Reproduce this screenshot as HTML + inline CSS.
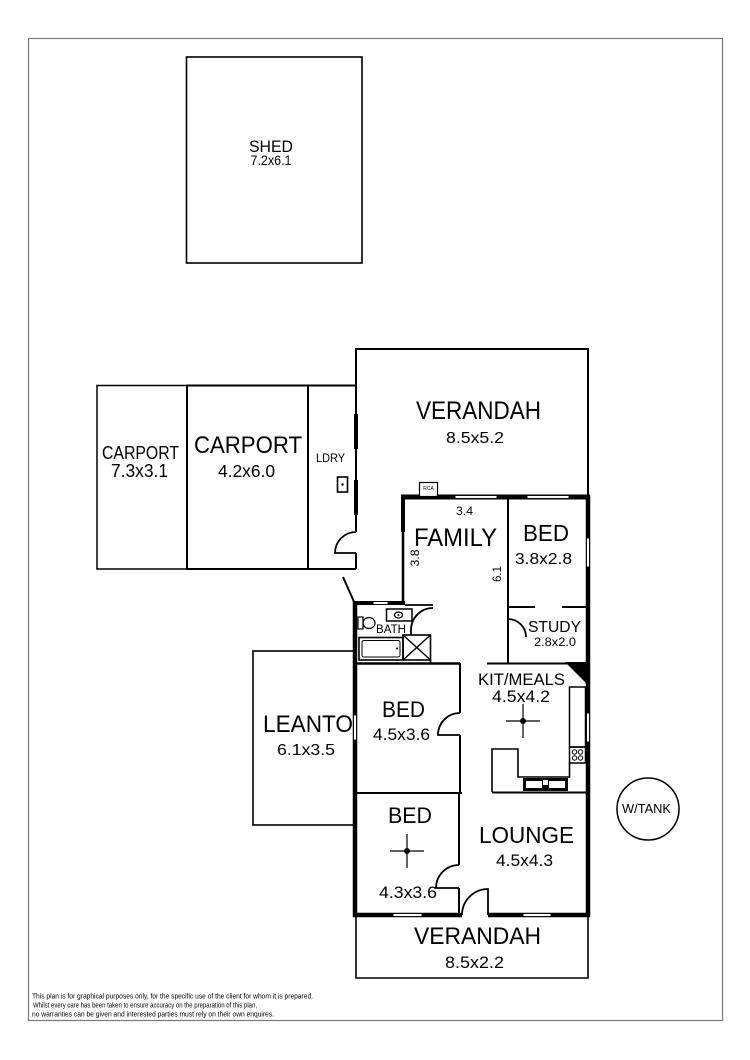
<!DOCTYPE html>
<html>
<head>
<meta charset="utf-8">
<style>
  html, body { margin: 0; padding: 0; background: #fff; }
  svg { display: block; }
  text { font-family: "Liberation Sans", "DejaVu Sans", sans-serif; fill: #000; }
</style>
</head>
<body>
<svg width="750" height="1060" viewBox="0 0 750 1060" xmlns="http://www.w3.org/2000/svg">
  <rect x="0" y="0" width="750" height="1060" fill="#fff"/>
  <!-- outer border -->
  <rect x="28.5" y="38.5" width="694" height="982" fill="none" stroke="#777" stroke-width="1.2"/>

  <!-- SHED -->
  <rect x="186.5" y="57" width="175.5" height="206" fill="none" stroke="#000" stroke-width="1.6"/>
  <text x="271" y="152" font-size="17" text-anchor="middle" textLength="44" lengthAdjust="spacingAndGlyphs">SHED</text>
  <text x="271" y="165" font-size="13.5" text-anchor="middle" textLength="41" lengthAdjust="spacingAndGlyphs">7.2x6.1</text>

  <g fill="none" stroke="#000">
    <!-- carports -->
    <rect x="97" y="385.5" width="90" height="183.5" stroke-width="1.5"/>
    <rect x="187" y="385.5" width="121" height="183.5" stroke-width="2"/>
    <!-- laundry -->
    <path d="M308,385.5 H356 M308,569 H356" stroke-width="2"/>
    <!-- verandah top -->
    <path d="M356,532 V349 H588 V497" stroke-width="2"/>
    <path d="M356,553 V569" stroke-width="2"/>
    <!-- ldry door -->
    <path d="M356,532 A21,21 0 0,0 335,553 L356,553" stroke-width="1.8"/>
    <!-- ldry windows -->
    <path d="M356,414 V449 M356,480 V515" stroke-width="4"/>
    <!-- ldry sink -->
    <rect x="337.5" y="477" width="10" height="15" stroke-width="1.6"/>
    <!-- diagonal -->
    <path d="M343,577 L355,604" stroke-width="2"/>

    <!-- leanto -->
    <rect x="253" y="651" width="102" height="174" stroke-width="1.6"/>
    <!-- verandah bottom -->
    <path d="M356,915 V978 H588 V915" stroke-width="1.6"/>

    <!-- thick house walls -->
    <path d="M401,497 H590" stroke-width="5"/>
    <path d="M588,495 V917" stroke-width="4.5"/>
    <path d="M353,915 H462 M488,915 H590" stroke-width="4.5"/>
    <path d="M355,601 V917" stroke-width="4.5"/>
    <path d="M403,495 V532" stroke-width="4"/>
    <path d="M403,532 V604" stroke-width="2.5"/>
    <path d="M353,603 H405" stroke-width="4"/>

    <!-- bath -->
    <path d="M405,605 H433" stroke-width="1.8"/>
    <path d="M433,608 A22,22 0 0,0 411,630 V635" stroke-width="1.8"/>
    <rect x="403" y="635" width="27.5" height="25" stroke-width="1.6"/>
    <path d="M403,635 L430.5,660 M430.5,635 L403,660" stroke-width="1.4"/>
    <path d="M430.5,660 V663" stroke-width="1.6"/>
    <rect x="359" y="637.5" width="44" height="22.5" stroke-width="1.6"/>
    <rect x="362" y="640.5" width="38" height="16.5" rx="2" stroke-width="1"/>
    <rect x="358" y="617" width="5" height="12" stroke-width="1.2"/>
    <ellipse cx="369" cy="623" rx="6" ry="5.5" stroke-width="1.2"/>
    <rect x="386.5" y="609" width="25.5" height="12" stroke-width="1.5"/>
    <ellipse cx="398.5" cy="615" rx="4" ry="3" stroke-width="1.3"/>

    <!-- internal walls -->
    <path d="M355,663.5 H460" stroke-width="2.6"/>
    <path d="M460,663 V713 M460,735 V793" stroke-width="2"/>
    <path d="M460,713 A22,22 0 0,0 438,735 L460,735" stroke-width="1.8"/>
    <path d="M355,793 H462" stroke-width="2"/>
    <path d="M459,793 V865 M459,888 V915" stroke-width="2"/>
    <path d="M459,865 A23,23 0 0,0 436,888 L459,888" stroke-width="1.8"/>
    <path d="M462,915 A26,26 0 0,1 488,889 L488,915" stroke-width="1.8"/>

    <path d="M508,497 V663" stroke-width="2"/>
    <path d="M508,607 H535 M562,607 H588" stroke-width="2"/>
    <path d="M508,619 A18,18 0 0,1 526,637" stroke-width="1.8"/>
    <path d="M487,663.5 H588" stroke-width="2"/>

    <!-- kitchen -->
    <rect x="569.5" y="687" width="16" height="60" stroke-width="1.5"/>
    <rect x="569.5" y="747" width="16" height="16" stroke-width="1.5"/>
    <circle cx="574.5" cy="752" r="2.2" stroke-width="1"/>
    <circle cx="580.5" cy="752" r="2.2" stroke-width="1"/>
    <circle cx="574.5" cy="758" r="2.2" stroke-width="1"/>
    <circle cx="580.5" cy="758" r="2.2" stroke-width="1"/>
    <path d="M492,792 V749 H518 V777 H569.5 V763" stroke-width="1.6"/>
    <path d="M492,792.5 H588" stroke-width="2"/>
  </g>

  <!-- kitchen triangle -->
  <polygon points="565,662 590,662 590,687" fill="#000"/>
  <!-- sink -->
  <rect x="523" y="778" width="45" height="13" fill="#000"/>
  <rect x="526" y="781" width="16" height="7" fill="#fff"/>
  <rect x="549" y="781" width="16" height="7" fill="#fff"/>
  <rect x="543" y="780" width="5" height="5" fill="#fff"/>

  <!-- windows (white gaps with thin lines) -->
  <g fill="#fff" stroke="#000" stroke-width="0.9">
    <rect x="455" y="495.5" width="42" height="3"/>
    <rect x="527" y="495.5" width="42" height="3"/>
    <rect x="586.5" y="538" width="3" height="29"/>
    <rect x="586.5" y="713" width="3" height="29"/>
    <rect x="393" y="913.5" width="29" height="3"/>
    <rect x="523" y="913.5" width="28" height="3"/>
    <rect x="353.5" y="715" width="3" height="25"/>
    <rect x="373" y="601.5" width="15" height="3"/>
  </g>

  <!-- RCA -->
  <rect x="419.5" y="482.5" width="18" height="14" fill="#fff" stroke="#000" stroke-width="1.2"/>
  <text x="428.5" y="490" font-size="5" text-anchor="middle">RCA</text>

  <!-- LDRY sink dot -->
  <circle cx="342.5" cy="484.5" r="1.2" fill="#000"/>
  <!-- bath dot -->
  <circle cx="397" cy="648.5" r="1" fill="#000"/>
  <circle cx="398.5" cy="615" r="1" fill="#000"/>

  <!-- ceiling fans -->
  <g stroke="#000" fill="none">
    <path d="M506,721 H540 M523,704 V738" stroke-width="1.2"/>
    <path d="M390,851 H424 M407,834 V868" stroke-width="1.2"/>
  </g>
  <circle cx="523" cy="721" r="3" fill="#000"/>
  <circle cx="407" cy="851" r="3" fill="#000"/>

  <!-- W/TANK -->
  <circle cx="648" cy="809" r="31" fill="none" stroke="#000" stroke-width="1.5"/>
  <text x="646.5" y="813" font-size="13" text-anchor="middle" textLength="49" lengthAdjust="spacingAndGlyphs">W/TANK</text>

  <!-- labels -->
  <text x="140.5" y="459" font-size="18" text-anchor="middle" textLength="77" lengthAdjust="spacingAndGlyphs">CARPORT</text>
  <text x="139.5" y="477" font-size="18" text-anchor="middle" textLength="57" lengthAdjust="spacingAndGlyphs">7.3x3.1</text>
  <text x="248" y="453" font-size="24" text-anchor="middle" textLength="108" lengthAdjust="spacingAndGlyphs">CARPORT</text>
  <text x="246.5" y="477" font-size="17.5" text-anchor="middle" textLength="57" lengthAdjust="spacingAndGlyphs">4.2x6.0</text>
  <text x="330.5" y="462" font-size="11.5" text-anchor="middle" textLength="29" lengthAdjust="spacingAndGlyphs">LDRY</text>

  <text x="478.5" y="419" font-size="25" text-anchor="middle" textLength="125" lengthAdjust="spacingAndGlyphs">VERANDAH</text>
  <text x="475" y="443" font-size="16" text-anchor="middle" textLength="58" lengthAdjust="spacingAndGlyphs">8.5x5.2</text>

  <text x="464.5" y="515" font-size="11.5" text-anchor="middle" textLength="17" lengthAdjust="spacingAndGlyphs">3.4</text>
  <text x="455.5" y="546" font-size="25" text-anchor="middle" textLength="83" lengthAdjust="spacingAndGlyphs">FAMILY</text>
  <text x="415" y="562" font-size="11.5" text-anchor="middle" textLength="17" lengthAdjust="spacingAndGlyphs" transform="rotate(-90 415 558)">3.8</text>
  <text x="497" y="578" font-size="11.5" text-anchor="middle" textLength="16" lengthAdjust="spacingAndGlyphs" transform="rotate(-90 497 574)">6.1</text>

  <text x="546" y="541" font-size="23" text-anchor="middle" textLength="46" lengthAdjust="spacingAndGlyphs">BED</text>
  <text x="543.5" y="564" font-size="16" text-anchor="middle" textLength="57" lengthAdjust="spacingAndGlyphs">3.8x2.8</text>

  <text x="554.5" y="632" font-size="16" text-anchor="middle" textLength="53" lengthAdjust="spacingAndGlyphs">STUDY</text>
  <text x="555" y="646" font-size="11.5" text-anchor="middle" textLength="42" lengthAdjust="spacingAndGlyphs">2.8x2.0</text>

  <text x="391" y="633" font-size="11.5" text-anchor="middle" textLength="30" lengthAdjust="spacingAndGlyphs">BATH</text>

  <text x="521.5" y="685" font-size="17" text-anchor="middle" textLength="87" lengthAdjust="spacingAndGlyphs">KIT/MEALS</text>
  <text x="521" y="702" font-size="16.5" text-anchor="middle" textLength="58" lengthAdjust="spacingAndGlyphs">4.5x4.2</text>

  <text x="308" y="732" font-size="24" text-anchor="middle" textLength="90" lengthAdjust="spacingAndGlyphs">LEANTO</text>
  <text x="306" y="755" font-size="16" text-anchor="middle" textLength="58" lengthAdjust="spacingAndGlyphs">6.1x3.5</text>

  <text x="403.5" y="717" font-size="22" text-anchor="middle" textLength="43" lengthAdjust="spacingAndGlyphs">BED</text>
  <text x="401.5" y="740" font-size="17" text-anchor="middle" textLength="57" lengthAdjust="spacingAndGlyphs">4.5x3.6</text>

  <text x="410" y="823" font-size="22" text-anchor="middle" textLength="44" lengthAdjust="spacingAndGlyphs">BED</text>
  <text x="408" y="898" font-size="16.5" text-anchor="middle" textLength="58" lengthAdjust="spacingAndGlyphs">4.3x3.6</text>

  <text x="526.5" y="843" font-size="23" text-anchor="middle" textLength="95" lengthAdjust="spacingAndGlyphs">LOUNGE</text>
  <text x="524.5" y="866" font-size="16.5" text-anchor="middle" textLength="57" lengthAdjust="spacingAndGlyphs">4.5x4.3</text>

  <text x="477.5" y="944" font-size="24" text-anchor="middle" textLength="127" lengthAdjust="spacingAndGlyphs">VERANDAH</text>
  <text x="474.5" y="968" font-size="16.5" text-anchor="middle" textLength="59" lengthAdjust="spacingAndGlyphs">8.5x2.2</text>

  <!-- disclaimer -->
  <text x="32" y="998.5" font-size="7" textLength="281" lengthAdjust="spacingAndGlyphs">This plan is for graphical purposes only, for the specific use of the client for whom it is prepared.</text>
  <text x="33" y="1007.5" font-size="7" textLength="224" lengthAdjust="spacingAndGlyphs">Whilst every care has been taken to ensure accuracy on the preparation of this plan,</text>
  <text x="32" y="1016.5" font-size="7" textLength="242" lengthAdjust="spacingAndGlyphs">no warranties can be given and interested parties must rely on their own enquires.</text>
</svg>
</body>
</html>
